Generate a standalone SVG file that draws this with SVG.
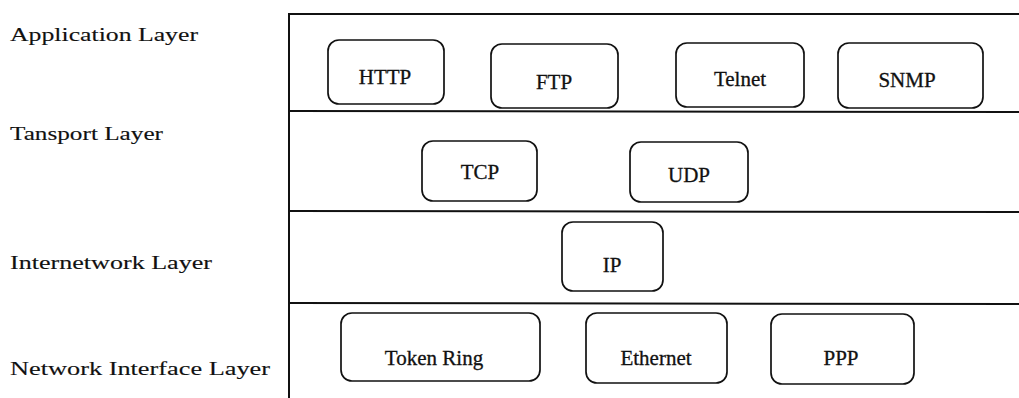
<svg xmlns="http://www.w3.org/2000/svg" width="1019" height="398" viewBox="0 0 1019 398">
<style>
.frame{stroke:#111;stroke-width:2;fill:none}
.box{fill:none;stroke:#111;stroke-width:1.7}
.lbl{font-family:"Liberation Serif","Times New Roman",serif;font-size:18px;fill:#111;stroke:#111;stroke-width:0.12}
.bt{font-family:"Liberation Serif","Times New Roman",serif;font-size:21px;fill:#111;stroke:#111;stroke-width:0.3;text-anchor:middle}
</style>
<rect width="1019" height="398" fill="#fff"/>
<g id="frame">
<line class="frame" x1="289" y1="14" x2="1019" y2="14"/>
<line class="frame" x1="289" y1="13" x2="289" y2="398"/>
<line class="frame" x1="289" y1="111" x2="1019" y2="112"/>
<line class="frame" x1="289" y1="211" x2="1019" y2="212"/>
<line class="frame" x1="289" y1="303" x2="1019" y2="304"/>
</g>
<g id="layer-labels">
<text class="lbl" x="10" y="41" textLength="188" lengthAdjust="spacingAndGlyphs">Application Layer</text>
<text class="lbl" x="10" y="140" textLength="153" lengthAdjust="spacingAndGlyphs">Tansport Layer</text>
<text class="lbl" x="10" y="269" textLength="202" lengthAdjust="spacingAndGlyphs">Internetwork Layer</text>
<text class="lbl" x="10" y="375" textLength="260" lengthAdjust="spacingAndGlyphs">Network Interface Layer</text>
</g>
<g id="http"><rect class="box" x="328" y="40" width="116" height="64" rx="11"/><text class="bt" x="385" y="84">HTTP</text></g>
<g id="ftp"><rect class="box" x="491" y="44" width="127" height="64" rx="11"/><text class="bt" x="554" y="89">FTP</text></g>
<g id="telnet"><rect class="box" x="676" y="43" width="128" height="64" rx="11"/><text class="bt" x="740" y="86">Telnet</text></g>
<g id="snmp"><rect class="box" x="838" y="43" width="145" height="65" rx="11"/><text class="bt" x="907" y="87">SNMP</text></g>
<g id="tcp"><rect class="box" x="422" y="141" width="115" height="60" rx="11"/><text class="bt" x="480" y="179">TCP</text></g>
<g id="udp"><rect class="box" x="630" y="142" width="118" height="60" rx="11"/><text class="bt" x="689" y="182">UDP</text></g>
<g id="ip"><rect class="box" x="562" y="222" width="101" height="69" rx="11"/><text class="bt" x="612" y="272">IP</text></g>
<g id="token-ring"><rect class="box" x="341" y="313" width="199" height="68" rx="11"/><text class="bt" x="434" y="365">Token Ring</text></g>
<g id="ethernet"><rect class="box" x="586" y="313" width="141" height="70" rx="11"/><text class="bt" x="656" y="365">Ethernet</text></g>
<g id="ppp"><rect class="box" x="771" y="314" width="143" height="70" rx="11"/><text class="bt" x="841" y="365">PPP</text></g>
<g id="connectors"></g>
</svg>
